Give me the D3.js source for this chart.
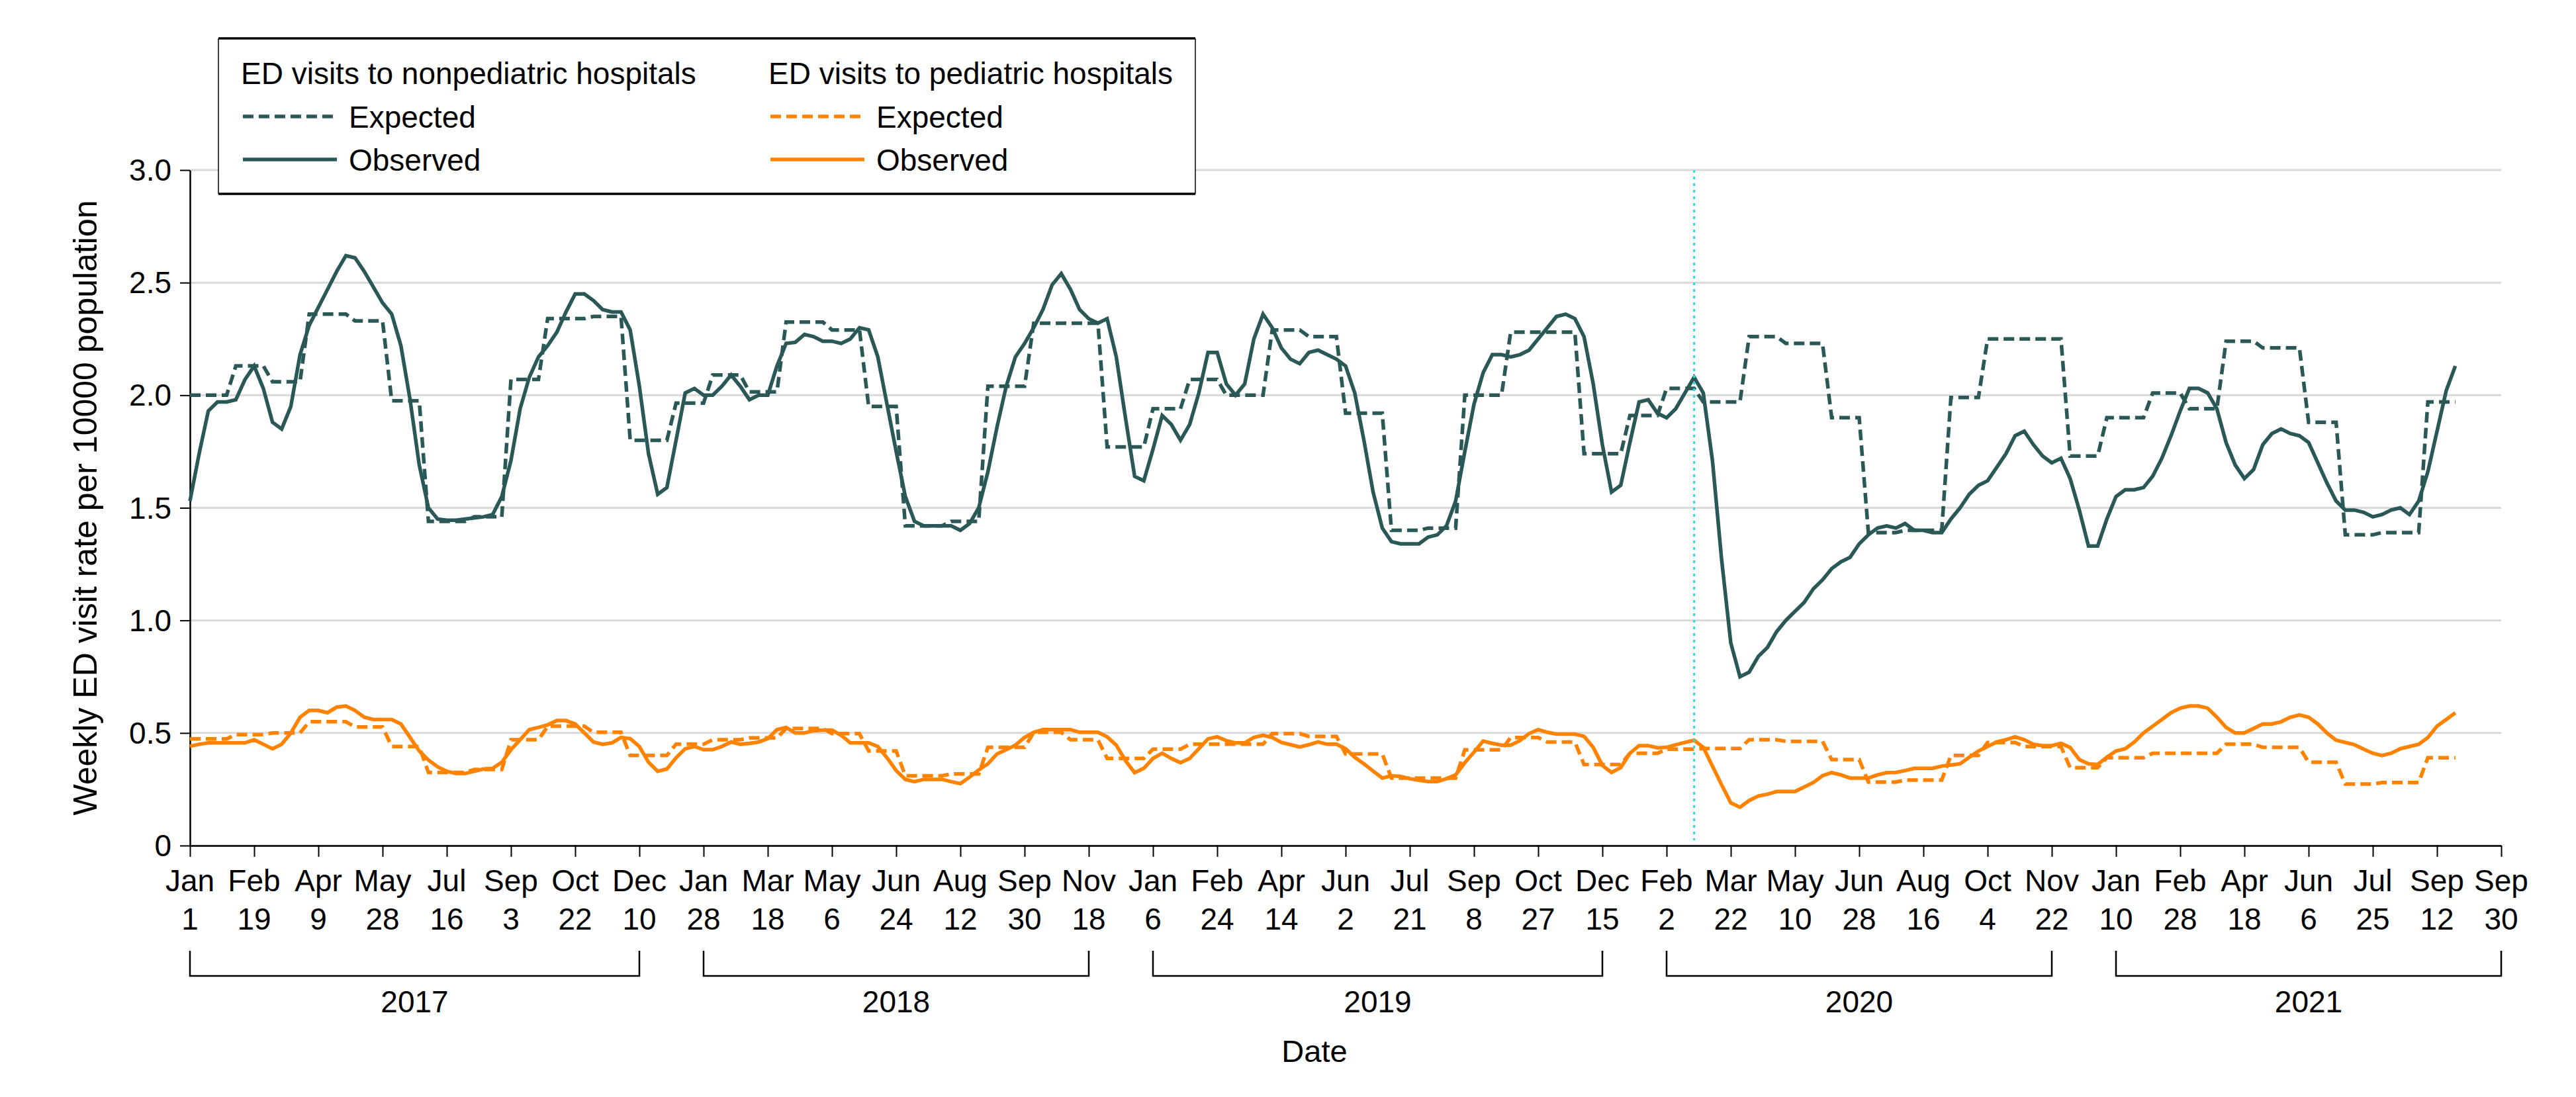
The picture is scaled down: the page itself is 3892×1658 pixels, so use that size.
<!DOCTYPE html>
<html><head><meta charset="utf-8">
<script src="https://cdn.jsdelivr.net/npm/d3@7"></script>
<style>
html,body{margin:0;padding:0;background:#fff;}
svg{display:block;font-family:"Liberation Sans",Arial,sans-serif;}
</style></head><body>
<svg id="chart" width="3892" height="1658"></svg>
<script>
// ---------------- DATA ----------------
const firstWeekYear = 2017; // weekly series start Sunday Jan 1, 2017
const nonpedObserved = [
1.53,1.74,1.93,1.97,1.97,1.98,2.07,2.13,2.03,1.88,
1.85,1.95,2.18,2.31,2.39,2.47,2.55,2.62,2.61,2.55,
2.48,2.41,2.36,2.22,1.98,1.69,1.50,1.45,1.445,1.445,
1.45,1.455,1.46,1.47,1.55,1.71,1.94,2.08,2.17,2.22,
2.28,2.37,2.45,2.45,2.42,2.38,2.37,2.37,2.29,2.04,
1.74,1.56,1.59,1.80,2.01,2.03,2.00,2.00,2.04,2.09,
2.04,1.98,2.00,2.00,2.13,2.23,2.235,2.27,2.26,2.24,
2.24,2.23,2.25,2.30,2.29,2.17,1.96,1.75,1.55,1.44,
1.42,1.42,1.42,1.42,1.40,1.43,1.50,1.66,1.86,2.04,
2.17,2.23,2.30,2.38,2.49,2.54,2.47,2.38,2.34,2.32,
2.34,2.17,1.90,1.64,1.62,1.76,1.91,1.87,1.80,1.87,
2.01,2.19,2.19,2.05,2.00,2.05,2.25,2.36,2.30,2.21,
2.16,2.14,2.19,2.20,2.18,2.16,2.13,2.01,1.80,1.57,
1.41,1.35,1.34,1.34,1.34,1.37,1.38,1.42,1.53,1.75,
1.96,2.10,2.18,2.18,2.17,2.18,2.20,2.25,2.30,2.35,
2.36,2.34,2.26,2.05,1.78,1.57,1.60,1.79,1.97,1.98,
1.92,1.90,1.94,2.01,2.08,2.01,1.71,1.27,0.90,0.75,
0.77,0.84,0.88,0.95,1.00,1.04,1.08,1.14,1.18,1.23,
1.26,1.28,1.34,1.38,1.41,1.42,1.41,1.43,1.40,1.40,
1.39,1.39,1.45,1.50,1.56,1.60,1.62,1.68,1.74,1.82,
1.84,1.78,1.73,1.70,1.72,1.63,1.49,1.33,1.33,1.45,
1.55,1.58,1.58,1.59,1.64,1.72,1.82,1.93,2.03,2.03,
2.01,1.94,1.79,1.69,1.63,1.67,1.78,1.83,1.85,1.83,
1.82,1.79,1.70,1.61,1.53,1.49,1.49,1.48,1.46,1.47,
1.49,1.50,1.47,1.53,1.66,1.84,2.02,2.13
];
const pedObserved = [
0.441,0.45,0.456,0.456,0.456,0.456,0.456,0.47,0.45,0.43,
0.45,0.50,0.57,0.60,0.60,0.59,0.615,0.62,0.60,0.57,
0.56,0.56,0.56,0.54,0.48,0.42,0.38,0.35,0.33,0.32,
0.32,0.33,0.34,0.343,0.37,0.426,0.47,0.515,0.525,0.536,
0.555,0.555,0.54,0.50,0.46,0.45,0.456,0.48,0.475,0.44,
0.37,0.33,0.34,0.39,0.43,0.44,0.426,0.426,0.44,0.46,
0.45,0.454,0.46,0.475,0.515,0.525,0.50,0.50,0.51,0.513,
0.513,0.49,0.456,0.456,0.456,0.44,0.39,0.333,0.294,0.284,
0.294,0.294,0.294,0.284,0.275,0.304,0.336,0.363,0.407,0.426,
0.446,0.48,0.503,0.515,0.515,0.515,0.515,0.503,0.503,0.503,
0.483,0.446,0.377,0.324,0.343,0.387,0.41,0.387,0.368,0.387,
0.43,0.474,0.483,0.466,0.456,0.456,0.48,0.49,0.48,0.458,
0.448,0.438,0.448,0.46,0.45,0.45,0.43,0.392,0.363,0.331,
0.30,0.31,0.307,0.297,0.29,0.284,0.284,0.297,0.314,0.368,
0.415,0.464,0.454,0.446,0.446,0.466,0.497,0.515,0.503,0.495,
0.495,0.495,0.485,0.436,0.356,0.325,0.346,0.41,0.444,0.444,
0.434,0.436,0.448,0.458,0.468,0.436,0.353,0.27,0.19,0.17,
0.20,0.22,0.228,0.24,0.24,0.24,0.26,0.28,0.31,0.324,
0.314,0.30,0.30,0.30,0.314,0.324,0.325,0.333,0.343,0.343,
0.343,0.353,0.358,0.363,0.392,0.42,0.44,0.46,0.47,0.483,
0.47,0.45,0.444,0.444,0.454,0.436,0.382,0.363,0.36,0.392,
0.42,0.43,0.46,0.50,0.53,0.56,0.59,0.61,0.62,0.62,
0.61,0.57,0.525,0.50,0.50,0.52,0.54,0.54,0.55,0.57,
0.58,0.57,0.54,0.50,0.468,0.458,0.448,0.428,0.41,0.40,
0.41,0.43,0.44,0.45,0.48,0.53,0.56,0.59
];
// Expected values are monthly (Jan 2017 ... Sep 2021)
const nonpedExpectedMonthly = [
2.00,2.13,2.06,2.36,2.33,1.975,1.44,1.46,2.07,2.34,2.35,1.80,
1.965,2.09,2.015,2.325,2.29,1.95,1.42,1.44,2.04,2.32,2.32,1.77,
1.94,2.07,2.00,2.29,2.26,1.92,1.40,1.41,2.00,2.28,2.28,1.74,
1.91,2.03,1.97,2.26,2.23,1.90,1.39,1.40,1.99,2.25,2.25,1.73,
1.90,2.01,1.94,2.24,2.21,1.88,1.38,1.39,1.97
];
const pedExpectedMonthly = [
0.474,0.493,0.50,0.55,0.527,0.44,0.325,0.338,0.47,0.53,0.503,0.40,
0.45,0.47,0.478,0.52,0.497,0.42,0.31,0.318,0.436,0.503,0.47,0.387,
0.428,0.45,0.45,0.497,0.485,0.407,0.30,0.30,0.425,0.48,0.46,0.36,
0.41,0.428,0.431,0.47,0.463,0.382,0.282,0.291,0.40,0.458,0.44,0.346,
0.39,0.41,0.41,0.45,0.436,0.37,0.273,0.28,0.39
];
const weeksPerTick = 7;
const tickMonths = ["Jan","Feb","Apr","May","Jul","Sep","Oct","Dec",
  "Jan","Mar","May","Jun","Aug","Sep","Nov",
  "Jan","Feb","Apr","Jun","Jul","Sep","Oct","Dec",
  "Feb","Mar","May","Jun","Aug","Oct","Nov",
  "Jan","Feb","Apr","Jun","Jul","Sep","Sep"];
const tickDays = ["1","19","9","28","16","3","22","10",
  "28","18","6","24","12","30","18",
  "6","24","14","2","21","8","27","15",
  "2","22","10","28","16","4","22",
  "10","28","18","6","25","12","30"];
const yearLabels = ["2017","2018","2019","2020","2021"];
const yearFirstTick = [0,8,15,23,30];
const yearLastTick = [7,14,22,29,36];
const yTicks = [0,0.5,1,1.5,2,2.5,3];
const markerWeek = 164;
const legendGroups = ["ED visits to nonpediatric hospitals","ED visits to pediatric hospitals"];
const legendItems = ["Expected","Observed"];

// ---------------- CHART ----------------
const svg = d3.select("#chart");
const W = 3892, H = 1658;
const pL = 287, pR = 3779, pT = 257, pB = 1278;
const teal = "#2a5856", orange = "#ff8200";

svg.append("rect").attr("width", W).attr("height", H).attr("fill", "#fff");

const nTicks = tickMonths.length;
const x = d3.scaleLinear().domain([0, (nTicks - 1) * weeksPerTick]).range([pL, pR]);
const y = d3.scaleLinear().domain([0, 3]).range([pB, pT]);

function monthIndex(i) {
  const d = new Date(firstWeekYear, 0, 1 + 7 * i);
  return (d.getFullYear() - firstWeekYear) * 12 + d.getMonth();
}
const nonpedExpected = nonpedObserved.map((_, i) => nonpedExpectedMonthly[monthIndex(i)]);
const pedExpected = pedObserved.map((_, i) => pedExpectedMonthly[monthIndex(i)]);

// gridlines
svg.append("g").selectAll("line").data(yTicks.filter(v => v > 0)).join("line")
  .attr("x1", pL).attr("x2", pR)
  .attr("y1", d => y(d)).attr("y2", d => y(d))
  .attr("stroke", "#d9d9d9").attr("stroke-width", 3);

// y axis
const yAxis = svg.append("g").attr("transform", `translate(${pL},0)`)
  .call(d3.axisLeft(y).tickValues(yTicks).tickSize(15).tickSizeOuter(0).tickPadding(13)
    .tickFormat(d => d === 0 ? "0" : d3.format(".1f")(d)));
yAxis.select(".domain").attr("stroke", "#000").attr("stroke-width", 2.5);
yAxis.selectAll(".tick line").attr("stroke", "#000").attr("stroke-width", 2);
yAxis.selectAll(".tick text").attr("font-size", 46).attr("fill", "#000")
  .attr("font-family", '"Liberation Sans",Arial,sans-serif').attr("dy", "0.34em");

// x axis
const tickVals = d3.range(nTicks).map(i => i * weeksPerTick);
const xAxis = svg.append("g").attr("transform", `translate(0,${pB})`)
  .call(d3.axisBottom(x).tickValues(tickVals).tickSize(17).tickSizeOuter(0).tickFormat(""));
xAxis.select(".domain").attr("stroke", "#222").attr("stroke-width", 3);
xAxis.selectAll(".tick line").attr("stroke", "#000").attr("stroke-width", 2);

const xl = svg.append("g").attr("font-size", 46).attr("text-anchor", "middle").attr("fill", "#000");
tickVals.forEach((t, i) => {
  xl.append("text").attr("x", x(t)).attr("y", 1347).text(tickMonths[i]);
  xl.append("text").attr("x", x(t)).attr("y", 1405).text(tickDays[i]);
});

// year brackets
const br = svg.append("g");
yearLabels.forEach((yr, k) => {
  const x0 = x(yearFirstTick[k] * weeksPerTick), x1 = x(yearLastTick[k] * weeksPerTick);
  br.append("path").attr("d", `M${x0},1437V1475H${x1}V1437`)
    .attr("fill", "none").attr("stroke", "#000").attr("stroke-width", 2.5);
  br.append("text").attr("x", (x0 + x1) / 2).attr("y", 1530).attr("text-anchor", "middle")
    .attr("font-size", 46).text(yr);
});

// axis titles
svg.append("text").attr("x", 1986).attr("y", 1605).attr("text-anchor", "middle")
  .attr("font-size", 47).text("Date");
svg.append("text").attr("transform", `translate(146,${(pT + pB) / 2}) rotate(-90)`)
  .attr("text-anchor", "middle").attr("font-size", 50).text("Weekly ED visit rate per 10000 population");

// lines
const line = d3.line().x((d, i) => x(i)).y(d => y(d));
const dash = "16,8";
function drawSeries(data, color, dashed) {
  svg.append("path").datum(data).attr("d", line)
    .attr("fill", "none").attr("stroke", color).attr("stroke-width", 5.5)
    .attr("stroke-dasharray", dashed ? dash : null).attr("stroke-linejoin", "miter");
}
drawSeries(nonpedExpected, teal, true);
drawSeries(nonpedObserved, teal, false);
drawSeries(pedExpected, orange, true);
drawSeries(pedObserved, orange, false);

// marker line
svg.append("line").attr("x1", x(markerWeek)).attr("x2", x(markerWeek))
  .attr("y1", pT).attr("y2", 1270)
  .attr("stroke", "#1fe0ee").attr("stroke-width", 3).attr("stroke-dasharray", "4,6");

// legend
const lg = svg.append("g");
lg.append("rect").attr("x", 330).attr("y", 58).attr("width", 1476).attr("height", 235).attr("fill", "#fff");
lg.append("line").attr("x1", 330).attr("x2", 1806).attr("y1", 58).attr("y2", 58).attr("stroke", "#000").attr("stroke-width", 3.5);
lg.append("line").attr("x1", 330).attr("x2", 1806).attr("y1", 293).attr("y2", 293).attr("stroke", "#000").attr("stroke-width", 3.5);
lg.append("line").attr("x1", 330).attr("x2", 330).attr("y1", 58).attr("y2", 293).attr("stroke", "#000").attr("stroke-width", 1.5);
lg.append("line").attr("x1", 1806).attr("x2", 1806).attr("y1", 58).attr("y2", 293).attr("stroke", "#000").attr("stroke-width", 1.5);
const colX = [364, 1161];
const colors = [teal, orange];
legendGroups.forEach((g, c) => {
  lg.append("text").attr("x", colX[c]).attr("y", 127).attr("font-size", 46).text(g);
  legendItems.forEach((it, r) => {
    const yy = r === 0 ? 176 : 241;
    lg.append("line").attr("x1", colX[c] + 3).attr("x2", colX[c] + 145).attr("y1", yy).attr("y2", yy)
      .attr("stroke", colors[c]).attr("stroke-width", 5.5).attr("stroke-dasharray", r === 0 ? dash : null);
    lg.append("text").attr("x", colX[c] + 163).attr("y", yy + 17).attr("font-size", 46).text(it);
  });
});
</script>
</body></html>
